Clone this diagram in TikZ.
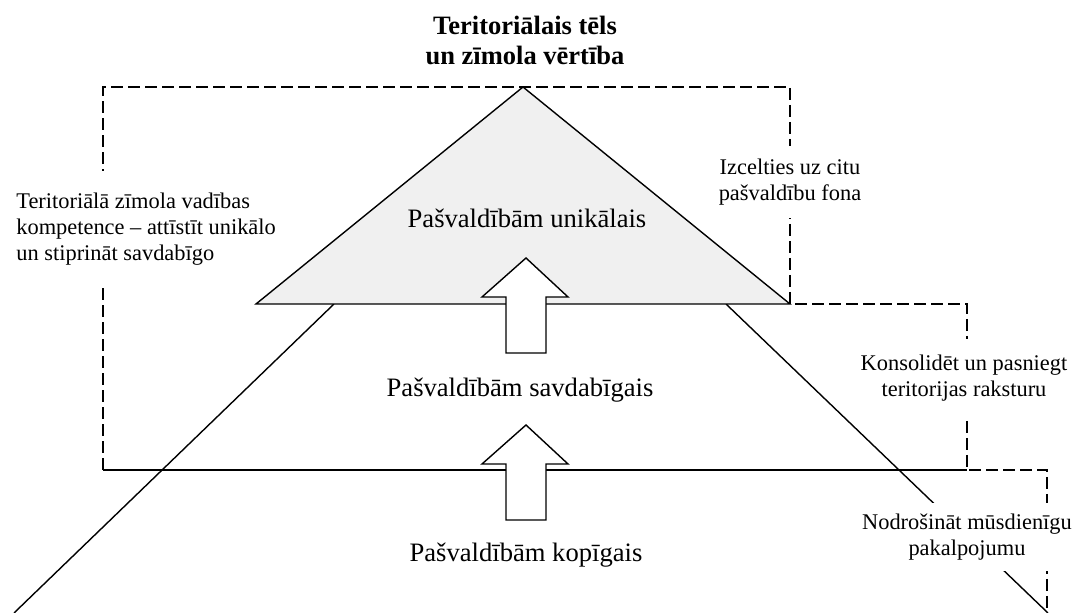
\documentclass[tikz,border=0pt]{standalone}
\usepackage{fontspec}
\setmainfont{Liberation Serif}
\usepackage{tikz}
\usetikzlibrary{calc,positioning}

\begin{document}
\begin{tikzpicture}[x=0.5pt,y=0.5pt]
            \tikzstyle{every node}+=[inner sep=0pt]
            \tikzstyle{level}=[font=\fontsize{13.3}{16}\selectfont]
            \tikzstyle{note}=[fill=white, align=center, inner xsep=2pt, font=\fontsize{11.2}{13}\selectfont]
            \tikzstyle{border}=[dash pattern=on 6pt off 2.5pt, line width=0.9pt]
            \tikzstyle{blockarrow}=[fill=white, draw=black, line width=0.7pt]
            \useasboundingbox (0,0) rectangle (1078,-613);
            % corner points
            \coordinate (apex) at (523,-87);
            \coordinate (tl) at (103,-87);
            \coordinate (tr) at (790,-87);
            \coordinate (baseL) at (256,-304);
            \coordinate (baseR) at (790,-304);
            \coordinate (midR) at (967,-304);
            \coordinate (lowL) at (103,-470);
            \coordinate (lowR) at (967,-470);
            \coordinate (outR) at (1047,-470);
            \coordinate (outB) at (1047,-613);
            \coordinate (sideL) at (334,-304);
            \coordinate (sideR) at (726,-304);
            \coordinate (footL) at (14,-613);
            \coordinate (footR) at (1048,-613);
            % pyramid
            \draw [black, line width=0.7pt] (sideL) -- (footL);
            \draw [black, line width=0.7pt] (sideR) -- (footR);
            \draw [black, line width=0.8pt] (lowL) -- (lowR);
            \draw [black, border] (lowL) -- (tl) -- (tr) -- (baseR) -- (midR) -- (lowR) -- (outR) -- (outB);
            % side notes
            \node (manage) at (12,-229) [note, anchor=west, align=left, inner ysep=11pt] {Teritoriālā zīmola vadības\\kompetence – attīstīt unikālo\\un stiprināt savdabīgo};
            \node (standout) at (790,-182) [note, inner ysep=6.5pt] {Izcelties uz citu\\pašvaldību fona};
            \node (character) at (964,-378) [note, inner ysep=8pt] {Konsolidēt un pasniegt\\teritorijas raksturu};
            \node (service) at (967,-537) [note, inner ysep=5.5pt] {Nodrošināt mūsdienīgu\\pakalpojumu};
            % top and arrows
            \draw [black, fill=black!6, line width=0.7pt] (apex) -- (baseL) -- (baseR) -- cycle;
            \foreach \t in {258,425}
              \draw [blockarrow] (526,-\t) -- (568,-\t-39) -- (546,-\t-39) -- (546,-\t-95)
                -- (506,-\t-95) -- (506,-\t-39) -- (482,-\t-39) -- cycle;
            % texts
            \node (title) at (525,-40) [align=center, font=\fontsize{13.25}{15}\selectfont\bfseries] {Teritoriālais tēls\\un zīmola vērtība};
            \node (unique) at (527,-218) [level] {Pašvaldībām unikālais};
            \node (distinct) at (520,-390) [level] {Pašvaldībām savdabīgais};
            \node (common) at (526,-555) [level] {Pašvaldībām kopīgais};
\end{tikzpicture}
\end{document}
